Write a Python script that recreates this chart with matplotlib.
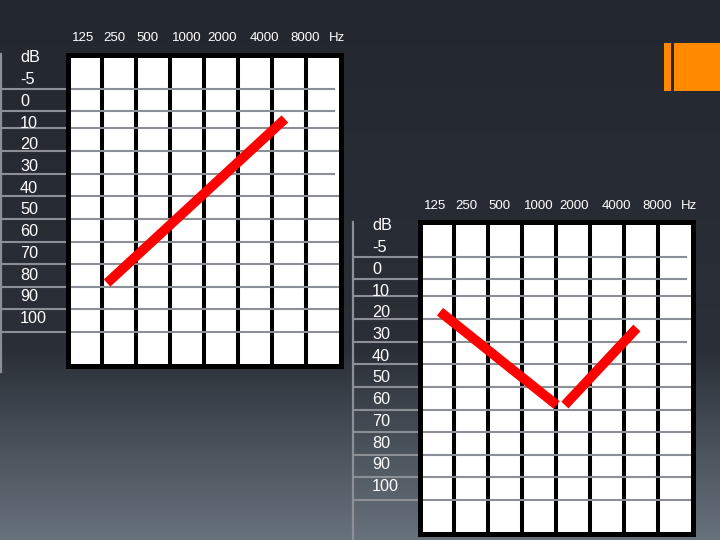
import numpy as np
import matplotlib
matplotlib.use('Agg')
import matplotlib.pyplot as plt
from matplotlib.colors import LinearSegmentedColormap
from matplotlib.patches import Rectangle

plt.rcParams['font.family'] = ['Liberation Sans', 'DejaVu Sans']

# audiogram scale labels
freq_labels = ['125', '250', '500', '1000', '2000', '4000', '8000', 'Hz']
db_labels = ['dB', '-5', '0', '10', '20', '30', '40', '50', '60', '70', '80', '90', '100']
db_values = [-5, 0, 10, 20, 30, 40, 50, 60, 70, 80, 90, 100]

# red lines, x in grid columns (0..8), y in dB
left_x = [[1.16, 6.37]]
left_db = [[83.7, 8.1]]
right_x = [[0.60, 4.02], [4.26, 6.37]]
right_db = [[19.5, 62.5], [62.5, 27.0]]

# layout (pixels of the 720x540 slide)
W, H = 720, 540
col_px = 34.125
row_px = 21.7
label_rows = np.arange(len(db_labels))
freq_pos = [0.454, 1.383, 2.344, 3.493, 4.542, 5.758, 6.96, 7.91]
grid_rows = [1.43, 2.44, 3.23, 4.29, 5.35, 6.36, 7.42, 8.48, 9.49, 10.55, 11.57, 12.63]
grid_end = [7.81, 7.81, 8.01, 8.01, 7.81, 8.01, 8.01, 8.01, 8.01, 8.01, 8.01, 8.01]


def db_to_row(db):
    return np.interp(db, db_values, label_rows[1:])


fig = plt.figure(figsize=(7.2, 5.4), dpi=100)

# slide background
bg = fig.add_axes([0, 0, 1, 1])
cmap = LinearSegmentedColormap.from_list(
    'bg', [(0, '#23282f'), (0.65, '#2b3038'), (1.0, '#68727c')])
grad = np.linspace(0, 1, 256).reshape(-1, 1)
bg.imshow(grad, cmap=cmap, aspect='auto', extent=[0, W, H, 0])
bg.set_xlim(0, W)
bg.set_ylim(H, 0)
bg.axis('off')
bg.add_patch(Rectangle((664, 43), 7, 48, color='#ff8a00', lw=0))
bg.add_patch(Rectangle((674, 43), 46, 48, color='#ff8a00', lw=0))


def audiogram(x0, y0, xs, dbs):
    # x0, y0: pixel of top-left corner of the grid area
    ax = fig.add_axes([x0 / W, 1 - (y0 + 311) / H, 273 / W, 311 / H])
    ax.set_facecolor('white')
    ax.set_xlim(0, 8)
    ax.set_ylim((365.5 - 58) / row_px, (54.5 - 58) / row_px)
    ax.set_xticks([])
    ax.set_yticks([])
    for s in ax.spines.values():
        s.set_linewidth(3.6)
        s.set_color('black')
        s.set_zorder(4)
    for c in range(1, 8):
        ax.axvline(c, color='black', lw=2.9, zorder=2)
    left = -66.5 / col_px
    for r, e in zip(grid_rows, grid_end):
        ax.plot([left, e], [r, r], color='#8c9096', lw=1.5, zorder=3, clip_on=False)
    ax.plot([left, left], [-0.18, 14.47], color='#8c9096', lw=1.6, zorder=3, clip_on=False)
    for r, t in zip(label_rows, db_labels):
        ax.text(left + 0.56, r, t, color='white', fontsize=11.7, ha='left', va='center')
    for p, t in zip(freq_pos, freq_labels):
        ax.text(p, -0.92, t, color='white', fontsize=9.5, ha='center', va='center')
    for x, d in zip(xs, dbs):
        ax.plot(x, db_to_row(d), color='#ff0000', lw=7, solid_capstyle='butt',
                zorder=5, clip_on=False)
    return ax


audiogram(67.5, 54.5, left_x, left_db)
audiogram(419.5, 222.5, right_x, right_db)

fig.savefig('out.png', dpi=100)
